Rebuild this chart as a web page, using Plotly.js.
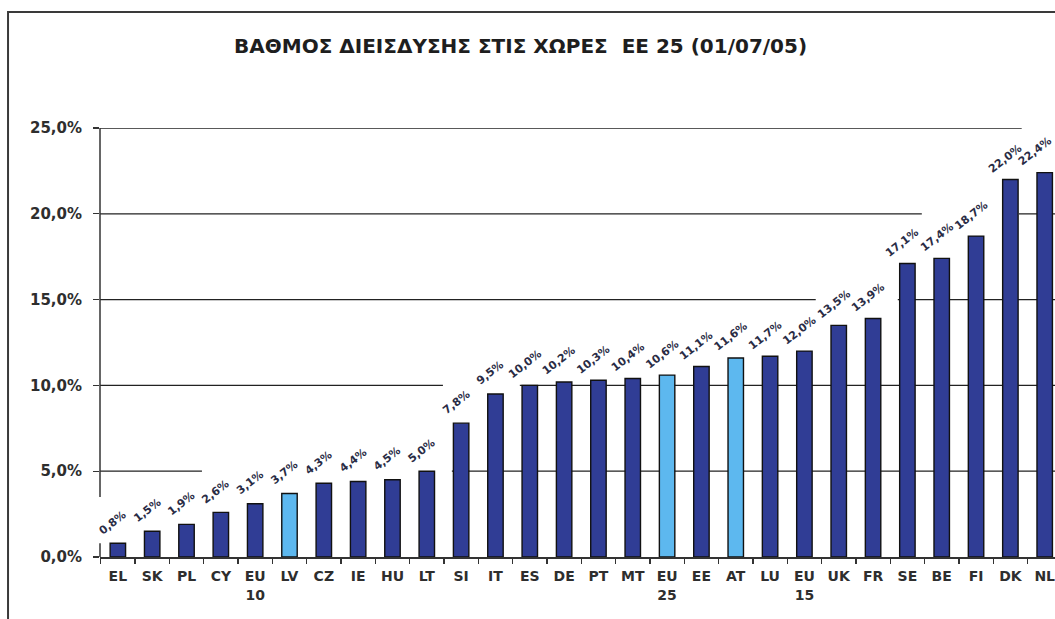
<!DOCTYPE html>
<html>
<head>
<meta charset="utf-8">
<script src="https://cdn.plot.ly/plotly-3.0.1.min.js"></script>
<style>
  html, body { margin: 0; padding: 0; background: #ffffff; }
  #chart { width: 1055px; height: 619px; }
</style>
</head>
<body>
<div id="chart"></div>
<script>
// ---- data ----
const categories = ['EL','SK','PL','CY','EU<br>10','LV','CZ','IE','HU','LT','SI','IT','ES','DE','PT','MT','EU<br>25','EE','AT','LU','EU<br>15','UK','FR','SE','BE','FI','DK','NL'];
const values = [0.8,1.5,1.9,2.6,3.1,3.7,4.3,4.4,4.5,5.0,7.8,9.5,10.0,10.2,10.3,10.4,10.6,11.1,11.6,11.7,12.0,13.5,13.9,17.1,17.4,18.7,22.0,22.4];
const highlighted = ['LV','EU<br>25','AT'];
const yTickValues = [0,5,10,15,20,25];
const yTickLabels = ['0,0%','5,0%','10,0%','15,0%','20,0%','25,0%'];
const titleText = 'ΒΑΘΜΟΣ ΔΙΕΙΣΔΥΣΗΣ ΣΤΙΣ ΧΩΡΕΣ  ΕΕ 25 (01/07/05)';

// ---- styles ----
const darkBar = '#303d95';
const lightBar = '#5db8ef';
const textColor = '#2e2e2e';
const fontFamily = '"DejaVu Sans", Verdana, sans-serif';

const fmt = v => v.toFixed(1).replace('.', ',') + '%';

const trace = {
  type: 'bar',
  x: categories,
  y: values,
  marker: {
    color: categories.map(c => highlighted.includes(c) ? lightBar : darkBar),
    line: { color: '#111111', width: 1.4 }
  },
  hoverinfo: 'skip'
};

const annotations = categories.map((c, i) => ({
  x: c, y: values[i], xref: 'x', yref: 'y',
  text: fmt(values[i]),
  showarrow: false,
  textangle: -38,
  yshift: 21,
  xshift: i === categories.length - 1 ? -10 : -5,   // keep the last label inside the page
  font: { family: fontFamily, size: 11, color: '#2a2c45', weight: 'bold' }
}));

// gridline segments (layout styling: visible parts of each gridline, in category units)
const gridSegments = [
  [5,  [[-0.52, 2.45], [9.73, 27.4]]],
  [10, [[-0.52, 9.47], [11.71, 27.4]]],
  [15, [[-0.52, 20.33], [22.72, 27.4]]],
  [20, [[-0.52, 23.42], [26.25, 27.4]]],
  [25, [[-0.52, 26.33]]]
];
const shapes = [];
gridSegments.forEach(([yv, segs]) => {
  segs.forEach(([x0, x1]) => {
    shapes.push({ type: 'line', xref: 'x', yref: 'y', x0, x1, y0: yv, y1: yv,
      line: { color: '#222222', width: 1.3 }, layer: 'below' });
  });
});
// vertical axis line pieces
shapes.push({ type: 'line', xref: 'paper', yref: 'y', x0: 0, x1: 0, y0: 3.5, y1: 25,
  line: { color: '#333333', width: 1.5 } });
shapes.push({ type: 'line', xref: 'paper', yref: 'y', x0: 0, x1: 0, y0: 0, y1: 0.8,
  line: { color: '#333333', width: 1.5 } });
// slide frame
shapes.push({ type: 'rect', xref: 'paper', yref: 'paper',
  x0: -0.0963, x1: 1.02, y0: -0.2, y1: 1.2704,
  line: { color: '#3a3a3a', width: 2 }, fillcolor: 'rgba(0,0,0,0)', layer: 'below' });

annotations.push({
  text: titleText, xref: 'paper', yref: 'paper',
  x: (520 - 100) / 955, y: (557 - 46) / 429, xanchor: 'center', yanchor: 'middle',
  showarrow: false,
  font: { family: fontFamily, size: 20, color: '#1e1e1e', weight: 'bold' }
});

const layout = {
  width: 1055, height: 619,
  margin: { l: 100, r: 0, t: 128, b: 62 },
  paper_bgcolor: '#ffffff',
  plot_bgcolor: 'rgba(0,0,0,0)',
  showlegend: false,
  bargap: 0.55,
  xaxis: {
    type: 'category',
    range: [-0.52, 27.3],
    showgrid: false,
    showline: true, linecolor: '#333333', linewidth: 1.5,
    ticks: 'outside', tickson: 'boundaries', ticklen: 5, tickcolor: '#333333', tickwidth: 1.3,
    ticklabelstandoff: 6,
    tickfont: { family: fontFamily, size: 14, color: textColor, weight: 'bold' },
    fixedrange: true
  },
  yaxis: {
    range: [0, 25],
    showgrid: false, zeroline: false, showline: false,
    tickmode: 'array', tickvals: yTickValues, ticktext: yTickLabels,
    ticks: 'outside', ticklen: 6, tickcolor: '#333333', tickwidth: 1.3,
    ticklabelstandoff: 8,
    tickfont: { family: fontFamily, size: 15, color: textColor, weight: 'bold' },
    fixedrange: true
  },
  shapes, annotations
};

Plotly.newPlot('chart', [trace], layout, { displayModeBar: false, staticPlot: true });
</script>
</body>
</html>
